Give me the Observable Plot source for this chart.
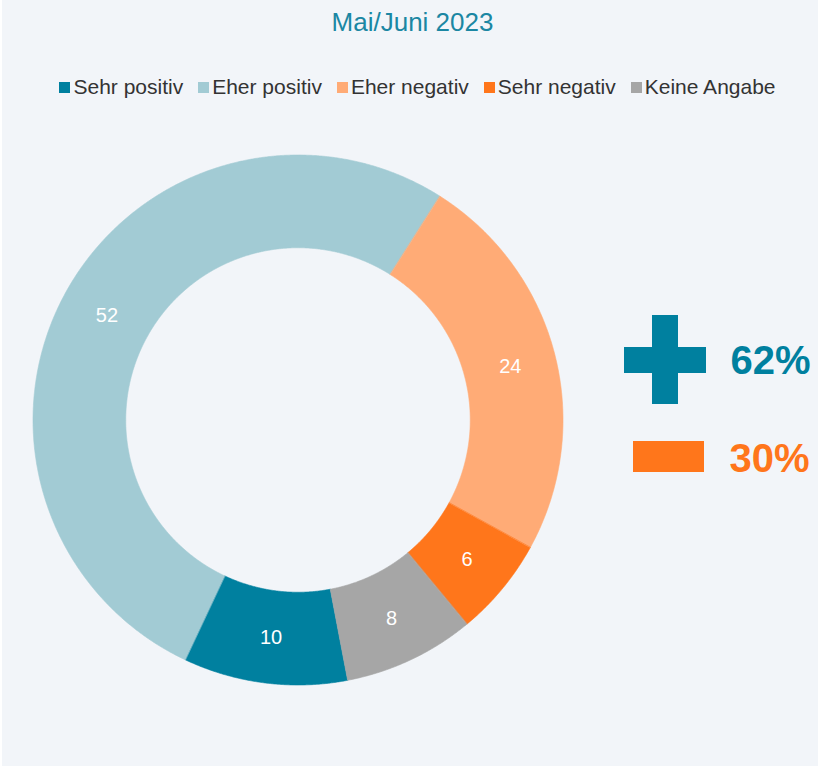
<!DOCTYPE html>
<html>
<head>
<meta charset="utf-8">
<script src="https://cdn.jsdelivr.net/npm/d3@7"></script>
<script src="https://cdn.jsdelivr.net/npm/@observablehq/plot@0.6"></script>
<style>
  html, body { margin: 0; padding: 0; background: #ffffff; }
  #panel {
    position: absolute; left: 2px; top: 0; width: 816px; height: 766px;
    background: #f2f5f9; font-family: "Liberation Sans", Arial, sans-serif;
  }
  #title {
    position: absolute; left: 0; top: 9px; width: 816px; text-align: center;
    font-size: 26px; line-height: 26px; color: #1b87a3; padding-left: 5px; box-sizing: border-box;
  }
  #legend {
    position: absolute; left: 0; top: 76px; width: 816px; display: flex; justify-content: center;
    font-size: 21px; line-height: 21px; color: #333333; padding-left: 15px; box-sizing: border-box;
  }
  .item { display: flex; align-items: center; margin: 0 7.5px; white-space: nowrap; }
  .sw { width: 11px; height: 11px; margin-right: 3px; margin-top: 2px; }
  #chart { position: absolute; left: 0; top: 110px; }
</style>
</head>
<body>
<div id="panel">
  <div id="title"></div>
  <div id="legend"></div>
  <div id="chart"></div>
</div>
<script>
// ---- data ----
const title = "Mai/Juni 2023";
const categories = ["Sehr positiv", "Eher positiv", "Eher negativ", "Sehr negativ", "Keine Angabe"];
const values = [10, 52, 24, 6, 8];
const colors = ["#00809f", "#a2cbd4", "#ffab76", "#ff761b", "#a6a6a6"];
const summaryLabels = ["62%", "30%"];
const summaryColors = ["#00809f", "#ff761b"];

// ---- layout ----
const W = 816, H = 656;
const cx = 296, cy = 310, R = 265, innerRatio = 0.65;
const startDeg = 169.2;
const ux = px => (px - cx) / R;
const uy = py => (cy - py) / R;

document.getElementById("title").textContent = title;
const legend = document.getElementById("legend");
categories.forEach((c, i) => {
  const it = document.createElement("div");
  it.className = "item";
  const sw = document.createElement("div");
  sw.className = "sw";
  sw.style.background = colors[i];
  const tx = document.createElement("span");
  tx.textContent = c;
  it.appendChild(sw); it.appendChild(tx);
  legend.appendChild(it);
});

const rows = categories.map((c, i) => ({key: c, value: values[i]}));
const start = startDeg * Math.PI / 180;
const arcs = d3.pie().sort(null).value(d => d.value).startAngle(start).endAngle(start + 2 * Math.PI)(rows);

const pts = [];
arcs.forEach(a => {
  const n = Math.max(2, Math.ceil((a.endAngle - a.startAngle) / (0.25 * Math.PI / 180)));
  for (let i = 0; i <= n; i++) {
    const t = a.startAngle + (a.endAngle - a.startAngle) * i / n;
    pts.push({
      key: a.data.key,
      xi: innerRatio * Math.sin(t), yi: innerRatio * Math.cos(t),
      xo: Math.sin(t), yo: Math.cos(t)
    });
  }
});
const labelR = (1 + innerRatio) / 2;
const labels = arcs.map(a => {
  const m = (a.startAngle + a.endAngle) / 2;
  return {key: a.data.key, value: a.data.value, x: labelR * Math.sin(m), y: labelR * Math.cos(m)};
});

// annotation shapes (pixel layout -> unit coords)
const plusBars = [
  {x1: ux(650), x2: ux(676), y1: uy(205), y2: uy(294)},
  {x1: ux(622), x2: ux(704), y1: uy(237), y2: uy(263)}
];
const minusBar = [{x1: ux(631), x2: ux(702), y1: uy(331), y2: uy(362)}];
const summary = [
  {text: summaryLabels[0], color: summaryColors[0], x: ux(728), y: uy(263)},
  {text: summaryLabels[1], color: summaryColors[1], x: ux(727), y: uy(361)}
];

const chart = Plot.plot({
  width: W, height: H,
  margin: 0,
  style: {background: "none", fontFamily: "'Liberation Sans', Arial, sans-serif", overflow: "visible"},
  x: {domain: [ux(0), ux(W)], range: [0, W], axis: null},
  y: {domain: [uy(H), uy(0)], range: [H, 0], axis: null},
  color: {domain: categories, range: colors},
  marks: [
    Plot.area(pts, {x1: "xi", y1: "yi", x2: "xo", y2: "yo", z: "key", fill: "key", stroke: "key", strokeWidth: 0.6, curve: "linear"}),
    Plot.text(labels, {x: "x", y: "y", text: d => String(d.value), fill: "white", fontSize: 20}),
    Plot.rect(plusBars, {x1: "x1", x2: "x2", y1: "y1", y2: "y2", fill: summaryColors[0]}),
    Plot.rect(minusBar, {x1: "x1", x2: "x2", y1: "y1", y2: "y2", fill: summaryColors[1]}),
    Plot.text(summary, {x: "x", y: "y", text: "text", fill: d => d.color, fontSize: 40, fontWeight: "bold", textAnchor: "start", lineAnchor: "bottom"})
  ]
});
document.getElementById("chart").appendChild(chart);
</script>
</body>
</html>
